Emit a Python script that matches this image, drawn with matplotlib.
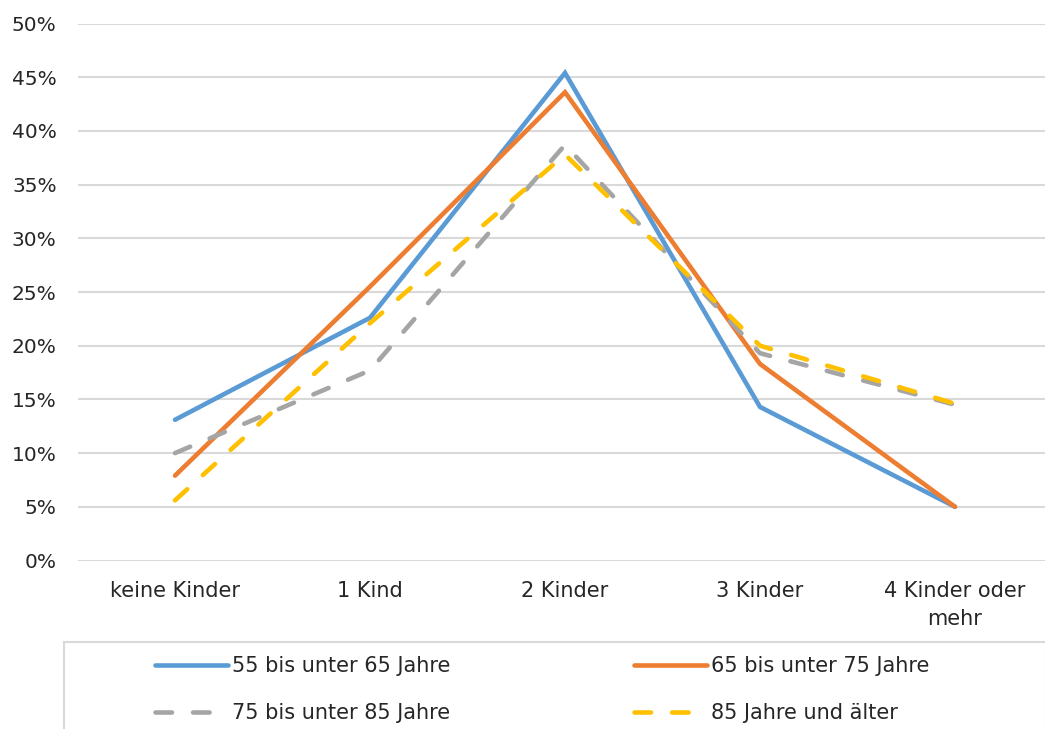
import matplotlib.pyplot as plt
from matplotlib.patches import Rectangle

plt.rcParams['font.family'] = ['DejaVu Sans']

kategorien = ["keine Kinder", "1 Kind", "2 Kinder", "3 Kinder", "4 Kinder oder\nmehr"]

# Anteile in Prozent je Altersgruppe
alter_55_65 = [13.1, 22.6, 45.4, 14.3, 5.0]
alter_65_75 = [7.9, 25.5, 43.6, 18.3, 5.0]
alter_75_85 = [10.0, 17.7, 38.7, 19.3, 14.5]
alter_85_plus = [5.6, 22.1, 37.8, 20.0, 14.6]

reihen = [
    ("55 bis unter 65 Jahre", alter_55_65, "#5B9BD5", "-"),
    ("65 bis unter 75 Jahre", alter_65_75, "#ED7D31", "-"),
    ("75 bis unter 85 Jahre", alter_75_85, "#A5A5A5", "--"),
    ("85 Jahre und älter", alter_85_plus, "#FFC000", "--"),
]

W, H = 1045, 729
fig = plt.figure(figsize=(W / 100, H / 100), dpi=100)
ax = fig.add_axes([77.5 / W, 1 - 560.5 / H, 975 / W, 537 / H])

x = range(len(kategorien))
linien = []
for name, werte, farbe, stil in reihen:
    l, = ax.plot(x, werte, color=farbe, lw=3.3, solid_capstyle='round',
                 dash_capstyle='round', solid_joinstyle='miter', label=name)
    if stil == "--":
        l.set_dashes((3.6, 4.6))
    linien.append(l)

ax.set_xlim(-0.5, len(kategorien) - 0.5)
ax.set_ylim(0, 50)
ax.set_yticks(range(0, 51, 5))
ax.set_yticklabels([f"{v}%" for v in range(0, 51, 5)])
ax.set_xticks(list(x))
ax.set_xticklabels(kategorien, linespacing=1.45)
ax.grid(axis='y', color='#D9D9D9', lw=1.5)
ax.set_axisbelow(True)
for s in ax.spines.values():
    s.set_visible(False)
ax.tick_params(axis='y', length=0, pad=15, labelsize=14.5, labelcolor='#262626')
ax.tick_params(axis='x', length=0, pad=15, labelsize=15, labelcolor='#262626')

# Legendenrahmen, unten angeschnitten
fig.patches.append(Rectangle((64 / W, -0.05), 982 / W, 0.05 + (H - 642) / H,
                             transform=fig.transFigure, fill=False,
                             ec='#D9D9D9', lw=1.5))

for i, links in enumerate([155, 634]):
    fig.legend(handles=linien[i::2], loc='upper left',
               bbox_to_anchor=(links / W, 1 - 656 / H), borderaxespad=0,
               borderpad=0, frameon=False, fontsize=15, handlelength=3.5,
               handletextpad=0.2, labelspacing=1.3, labelcolor='#262626')

fig.savefig("out.png", dpi=100)
